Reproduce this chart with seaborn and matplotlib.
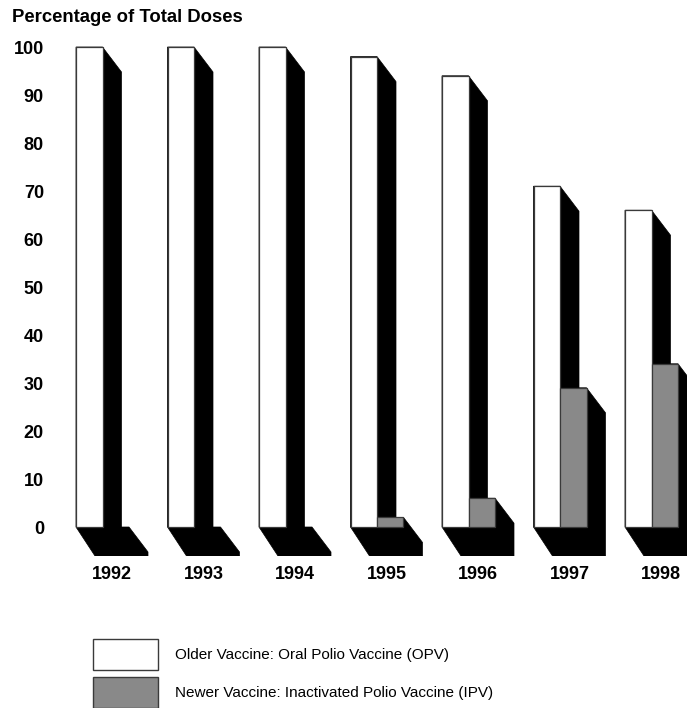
import numpy as np
import pandas as pd
import matplotlib
matplotlib.use("Agg")
import matplotlib.pyplot as plt
from matplotlib.patches import Polygon, Rectangle
import seaborn as sns

# Share of polio vaccine doses by year
years = ["1992", "1993", "1994", "1995", "1996", "1997", "1998"]
opv_pct = [100, 100, 100, 98, 94, 71, 66]
ipv_pct = [0, 0, 0, 2, 6, 29, 34]
series_labels = {
    "OPV": "Older Vaccine: Oral Polio Vaccine (OPV)",
    "IPV": "Newer Vaccine: Inactivated Polio Vaccine (IPV)",
}
y_ticks = list(range(0, 101, 10))

df = pd.DataFrame({
    "Year": years * 2,
    "Vaccine": ["OPV"] * len(years) + ["IPV"] * len(years),
    "Percent": opv_pct + ipv_pct,
})

sns.set_theme(style="white")
plt.rcParams["font.family"] = ["Liberation Sans", "DejaVu Sans"]
plt.rcParams["text.color"] = "black"
plt.rcParams["xtick.color"] = "black"
plt.rcParams["ytick.color"] = "black"

W, H = 687, 708
fig = plt.figure(figsize=(W / 100, H / 100), dpi=100)

# axes frame in pixel terms
ax_left, ax_right, ax_top, ax_bot = 55, 687, 30, 556
zero_px, px_per_unit = 527, 4.8
cat0_px, cat_step = 102.5, 91.5
ax = fig.add_axes([ax_left / W, (H - ax_bot) / H,
                   (ax_right - ax_left) / W, (ax_bot - ax_top) / H])
ax.set_facecolor("none")

sns.barplot(data=df, x="Year", y="Percent", hue="Vaccine",
            hue_order=["OPV", "IPV"],
            palette={"OPV": "white", "IPV": "#898989"},
            width=53 / cat_step, saturation=1, edgecolor="#3a3a3a",
            linewidth=0.9, legend=False, errorbar=None, ax=ax, zorder=2)

ax.set_xlim((ax_left - cat0_px) / cat_step, (ax_right - cat0_px) / cat_step)
ax.set_ylim(-(ax_bot - zero_px) / px_per_unit, (zero_px - ax_top) / px_per_unit)

# extruded depth: black side and floor behind each bar
dx = 19 / cat_step
d_top = 25 / px_per_unit
d_bot = 29 / px_per_unit
for p in list(ax.patches):
    x0, w, h = p.get_x(), p.get_width(), p.get_height()
    x1 = x0 + w
    if h <= 0:
        p.set_linewidth(0)
    verts = [(x0, h), (x1, h), (x1 + dx, h - d_top), (x1 + dx, -d_bot),
             (x0 + dx, -d_bot), (x0, 0)]
    ax.add_patch(Polygon(verts, closed=True, facecolor="black",
                         edgecolor="black", linewidth=0.5, zorder=1))

for s in ax.spines.values():
    s.set_visible(False)
ax.grid(False)
ax.set_xlabel("")
ax.set_ylabel("")

ax.set_yticks(y_ticks, labels=[str(t) for t in y_ticks])
ax.tick_params(axis="y", length=0, pad=(ax_left - 44) * 0.72)
for t in ax.get_yticklabels():
    t.set_fontweight("bold")
    t.set_fontsize(13)

ax.set_xticks(np.arange(len(years)) + dx / 2, labels=years)
ax.tick_params(axis="x", length=0, pad=7.5)
for t in ax.get_xticklabels():
    t.set_fontweight("bold")
    t.set_fontsize(13)

fig.text(12 / W, 1 - 17 / H, "Percentage of Total Doses", ha="left",
         va="center", fontsize=13.3, fontweight="bold")

# legend swatches
for i, (key, color) in enumerate([("OPV", "white"), ("IPV", "#898989")]):
    top = 639 + i * 38
    fig.add_artist(Rectangle((93 / W, 1 - (top + 31) / H), 65 / W, 31 / H,
                             transform=fig.transFigure, facecolor=color,
                             edgecolor="#3a3a3a", linewidth=1))
    fig.text(175 / W, 1 - (top + 16) / H, series_labels[key], ha="left",
             va="center", fontsize=11)

fig.savefig("out.png", dpi=100)
